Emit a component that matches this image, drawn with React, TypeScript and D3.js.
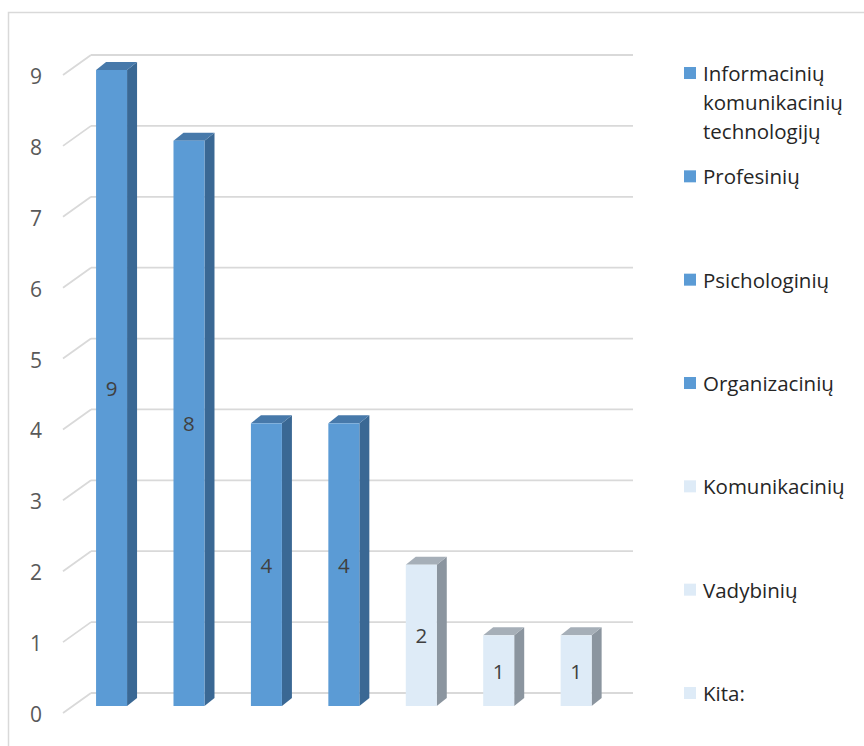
import React from "react";
import * as d3 from "d3";

const categories = [
  "Informacinių komunikacinių technologijų",
  "Profesinių",
  "Psichologinių",
  "Organizacinių",
  "Komunikacinių",
  "Vadybinių",
  "Kita:",
];
const values = [9, 8, 4, 4, 2, 1, 1];
const highlighted = [true, true, true, true, false, false, false];
const yTicks = [0, 1, 2, 3, 4, 5, 6, 7, 8, 9];

const W = 864;
const H = 746;

const dark = { front: "#5B9BD5", side: "#3A6894", top: "#4779AA" };
const light = { front: "#DEEBF7", side: "#8B959F", top: "#A6AFB8" };

export default function App() {
  const yBack = d3.scaleLinear().domain([0, 9]).range([693, 55]);
  const yFront = d3.scaleLinear().domain([0, 9]).range([706, 70]);
  const x = d3.scaleBand<string>().domain(categories).range([63, 605]);
  const wallLeft = 91;
  const wallRight = 633;
  const floorDx = 28;
  const floorDy = 20;
  const barW = 31;
  const depthX = 10;
  const depthY = 8;
  const legendY = d3.scaleLinear().domain([0, categories.length - 1]).range([73, 693]);
  const font = "'Open Sans', 'Noto Sans', sans-serif";

  return (
    <svg
      width={W}
      height={H}
      style={{ position: "absolute", left: 0, top: 0, background: "#fff" }}
      fontFamily={font}
    >
      <rect x={0} y={0} width={W} height={H} fill="#fff" />
      <rect x={8.5} y={12.5} width={W + 20} height={H + 20} fill="none" stroke="#D9D9D9" strokeWidth={1.5} />
      {yTicks.map((t) => (
        <g key={t}>
          <line x1={wallLeft} x2={wallRight} y1={yBack(t)} y2={yBack(t)} stroke="#D9D9D9" strokeWidth={1.8} />
          <line
            x1={wallLeft}
            y1={yBack(t)}
            x2={wallLeft - floorDx}
            y2={yBack(t) + floorDy}
            stroke="#D9D9D9"
            strokeWidth={1.8}
          />
          <text
            x={36}
            y={yBack(t) + floorDy + 1}
            textAnchor="middle"
            dominantBaseline="central"
            fontSize={21}
            fill="#595959"
          >
            {t}
          </text>
        </g>
      ))}
      {categories.map((c, i) => {
        const v = values[i];
        const col = highlighted[i] ? dark : light;
        const x0 = (x(c) as number) + x.bandwidth() * 0.427;
        const x1 = x0 + barW;
        const yt = yFront(v);
        const yb = yFront(0);
        const side = `${x1},${yt} ${x1 + depthX},${yt - depthY} ${x1 + depthX},${yb - depthY} ${x1},${yb}`;
        const top = `${x0},${yt} ${x0 + depthX},${yt - depthY} ${x1 + depthX},${yt - depthY} ${x1},${yt}`;
        return (
          <g key={c}>
            <polygon points={side} fill={col.side} />
            <polygon points={top} fill={col.top} />
            <rect x={x0} y={yt} width={barW} height={yb - yt} fill={col.front} />
            <text
              x={x0 + barW / 2}
              y={(yt + yb) / 2}
              textAnchor="middle"
              dominantBaseline="central"
              fontSize={20.5}
              fill="#404040"
            >
              {v}
            </text>
          </g>
        );
      })}
      {categories.map((c, i) => {
        const col = highlighted[i] ? dark : light;
        const ly = legendY(i);
        const lines = c.split(" ");
        return (
          <g key={"l" + c}>
            <rect x={684} y={ly - 6} width={12} height={12} fill={col.front} />
            {lines.map((ln, j) => (
              <text
                key={j}
                x={703}
                y={ly + j * 29}
                dominantBaseline="central"
                fontSize={20.5}
                fill="#262626"
              >
                {ln}
              </text>
            ))}
          </g>
        );
      })}
    </svg>
  );
}
